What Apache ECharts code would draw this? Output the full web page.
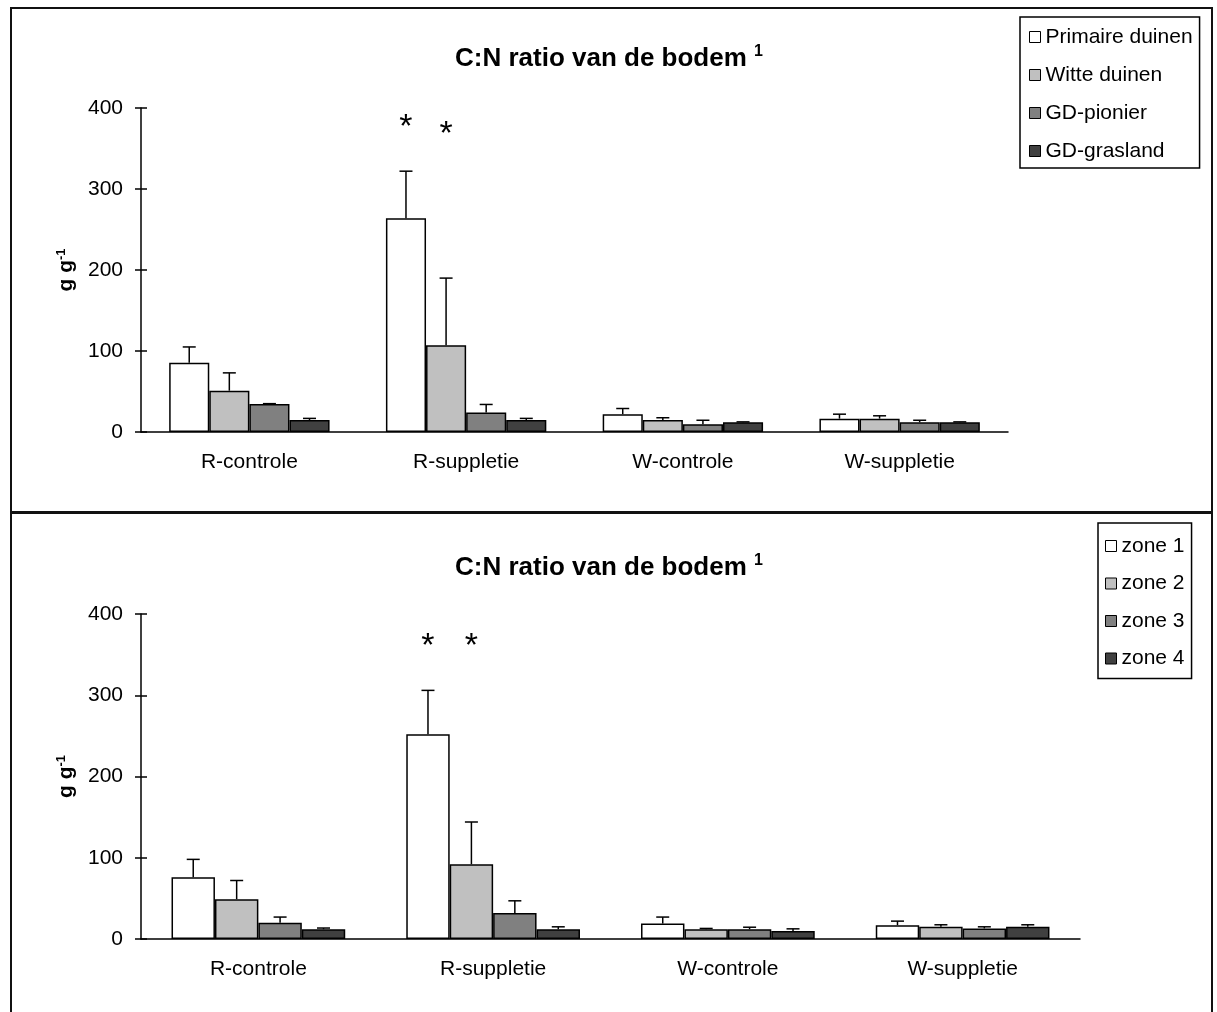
<!DOCTYPE html>
<html>
<head>
<meta charset="utf-8">
<script src="https://cdn.jsdelivr.net/npm/echarts@6/dist/echarts.min.js"></script>
<style>
  body { margin: 0; background: #fff; }
  .panel {
    position: absolute;
    left: 10px;
    width: 1203px;
    border: 2px solid #111;
    box-sizing: border-box;
    background: #fff;
  }
  #panel1 { top: 7px; height: 506px; }
  #panel2 { top: 512px; height: 510px; }
  .report_container { width: 100%; height: 100%; }
</style>
</head>
<body>
<div class="panel" id="panel1"><div class="report_container" id="container1"></div></div>
<div class="panel" id="panel2"><div class="report_container" id="container2"></div></div>

<script>
// categorieën en tick-waarden
const categories = ['R-controle', 'R-suppletie', 'W-controle', 'W-suppletie'];
const yTicks = [0, 100, 200, 300, 400];
const barColors = ['#ffffff', '#c0c0c0', '#808080', '#404040'];

// bovenste grafiek: vegetatietypen
const topNames = ['Primaire duinen', 'Witte duinen', 'GD-pionier', 'GD-grasland'];
const topPrimaire = [85.5, 264, 22, 16.5];
const topPrimaireErr = [19.5, 58, 7, 5.5];
const topWitte = [51, 107, 14.8, 16.5];
const topWitteErr = [22, 83, 2.8, 3.5];
const topPionier = [34.5, 24, 9.5, 12];
const topPionierErr = [0.5, 10, 5, 2.5];
const topGrasland = [14.8, 14.8, 12, 12];
const topGraslandErr = [2, 2, 0.5, 0.5];
// sterretjes: [categorie, serie, hoogte]
const topStars = [[1, 0, 383], [1, 1, 375]];

// onderste grafiek: zones
const bottomNames = ['zone 1', 'zone 2', 'zone 3', 'zone 4'];
const zone1 = [76, 252, 19, 17];
const zone1Err = [22, 54, 8, 5];
const zone2 = [49, 92, 12, 15];
const zone2Err = [23, 52, 1, 2.5];
const zone3 = [20, 32, 12, 13];
const zone3Err = [7, 15, 2.5, 2];
const zone4 = [12, 12, 10, 15];
const zone4Err = [1.5, 3, 2.5, 2.5];
const bottomStars = [[1, 0, 367], [1, 1, 367]];

const FONT = "'Liberation Sans', Arial, sans-serif";
const GAP = 0.26;

function errorSeries(values, errors, idx, n) {
  return {
    type: 'custom',
    z: 10,
    silent: true,
    renderItem: function (params, api) {
      const cat = api.value(0);
      const val = api.value(1);
      const err = api.value(2);
      const base = api.coord([cat, val]);
      const top = api.coord([cat, val + err]);
      const catW = api.size([1, 0])[0];
      const bw = catW * (1 - GAP) / n;
      const x = base[0] - catW * (1 - GAP) / 2 + (idx + 0.5) * bw;
      const style = { stroke: '#000', lineWidth: 1.5 };
      return {
        type: 'group',
        children: [
          { type: 'line', shape: { x1: x, y1: base[1], x2: x, y2: top[1] }, style: style },
          { type: 'line', shape: { x1: x - 6.5, y1: top[1], x2: x + 6.5, y2: top[1] }, style: style }
        ]
      };
    },
    data: values.map((v, i) => [i, v, errors[i]])
  };
}

function starSeries(stars, n) {
  return {
    type: 'custom',
    z: 10,
    silent: true,
    renderItem: function (params, api) {
      const cat = api.value(0);
      const idx = api.value(1);
      const p = api.coord([cat, api.value(2)]);
      const catW = api.size([1, 0])[0];
      const bw = catW * (1 - GAP) / n;
      const x = p[0] - catW * (1 - GAP) / 2 + (idx + 0.5) * bw;
      return {
        type: 'text',
        x: x,
        y: p[1] + 6,
        style: { text: '*', fontSize: 34, fontFamily: FONT, fill: '#000', align: 'center', verticalAlign: 'middle' }
      };
    },
    data: stars
  };
}

function initChart(el, cfg) {
  // 基于准备好的dom，初始化echarts实例
  var myChart = echarts.init(document.getElementById(el));
  const n = cfg.names.length;
  const series = [];
  cfg.values.forEach((vals, i) => {
    series.push({
      name: cfg.names[i],
      type: 'bar',
      data: vals,
      barGap: 0,
      barCategoryGap: (GAP * 100) + '%',
      itemStyle: { color: barColors[i], borderColor: '#000', borderWidth: 1.5 }
    });
  });
  cfg.values.forEach((vals, i) => series.push(errorSeries(vals, cfg.errors[i], i, n)));
  series.push(starSeries(cfg.stars, n));

  myChart.setOption({
    animation: false,
    textStyle: { fontFamily: FONT },
    title: {
      text: '{t|C:N ratio van de bodem }{s|1}',
      left: cfg.titleLeft,
      top: cfg.titleTop,
      textStyle: {
        rich: {
          t: { fontSize: 26, fontWeight: 'bold', fontFamily: FONT, color: '#000', lineHeight: 30 },
          s: { fontSize: 16, fontWeight: 'bold', fontFamily: FONT, color: '#000', verticalAlign: 'top', lineHeight: 16 }
        }
      }
    },
    legend: {
      data: cfg.names,
      orient: 'vertical',
      left: cfg.legendLeft,
      top: cfg.legendTop,
      padding: cfg.legendPadding,
      itemGap: cfg.legendGap,
      itemWidth: 11,
      itemHeight: 11,
      icon: 'rect',
      borderColor: '#000',
      borderWidth: 1.5,
      selectedMode: false,
      itemStyle: { borderColor: '#000', borderWidth: 1 },
      textStyle: { fontSize: 21, fontFamily: FONT, color: '#000', lineHeight: 24 }
    },
    grid: cfg.grid,
    xAxis: [
      {
        type: 'category',
        data: categories,
        axisLine: { lineStyle: { color: '#000', width: 1.5 } },
        axisTick: { length: 6, lineStyle: { color: '#000', width: 1.5 } },
        axisLabel: { fontSize: 21, color: '#000', margin: 20, fontFamily: FONT }
      },
      {
        type: 'category',
        data: categories,
        position: 'bottom',
        axisLine: { show: false },
        axisTick: { inside: true, length: 5, lineStyle: { color: '#000', width: 1.5 } },
        axisLabel: { show: false }
      }
    ],
    yAxis: [
      {
        type: 'value',
        min: yTicks[0],
        max: yTicks[yTicks.length - 1],
        interval: yTicks[1] - yTicks[0],
        splitLine: { show: false },
        axisLine: { show: true, lineStyle: { color: '#000', width: 1.5 } },
        axisTick: { show: true, length: 6, lineStyle: { color: '#000', width: 1.5 } },
        axisLabel: { fontSize: 21, color: '#000', margin: 18, fontFamily: FONT },
        name: '{g|g g}{s|-1}',
        nameLocation: 'middle',
        nameRotate: 90,
        nameGap: 62,
        nameTextStyle: {
          rich: {
            g: { fontSize: 21, fontWeight: 'bold', fontFamily: FONT, color: '#000', lineHeight: 24 },
            s: { fontSize: 13, fontWeight: 'bold', fontFamily: FONT, color: '#000', verticalAlign: 'top', lineHeight: 13 }
          }
        }
      },
      {
        type: 'value',
        min: yTicks[0],
        max: yTicks[yTicks.length - 1],
        interval: yTicks[1] - yTicks[0],
        position: 'left',
        splitLine: { show: false },
        axisLine: { show: false },
        axisTick: { show: true, inside: true, length: 6, lineStyle: { color: '#000', width: 1.5 } },
        axisLabel: { show: false }
      }
    ],
    series: series
  });
}

initChart('container1', {
  names: topNames,
  values: [topPrimaire, topWitte, topPionier, topGrasland],
  errors: [topPrimaireErr, topWitteErr, topPionierErr, topGraslandErr],
  stars: topStars,
  titleLeft: 438,
  titleTop: 30,
  legendLeft: 1008,
  legendTop: 8,
  legendPadding: [8, 7, 5, 9],
  legendGap: 14,
  grid: { left: 129, right: 203, top: 99, bottom: 79 }
});

initChart('container2', {
  names: bottomNames,
  values: [zone1, zone2, zone3, zone4],
  errors: [zone1Err, zone2Err, zone3Err, zone4Err],
  stars: bottomStars,
  titleLeft: 438,
  titleTop: 34,
  legendLeft: 1086,
  legendTop: 9,
  legendPadding: [11, 7, 8, 7],
  legendGap: 13.5,
  grid: { left: 129, right: 131, top: 100, bottom: 81 }
});
</script>
</body>
</html>
